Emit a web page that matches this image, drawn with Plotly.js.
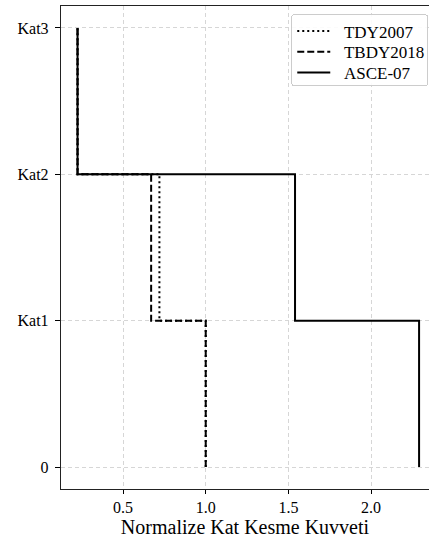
<!DOCTYPE html>
<html>
<head>
<meta charset="utf-8">
<script src="https://cdn.plot.ly/plotly-3.0.1.min.js"></script>
<style>html,body{margin:0;padding:0;background:#fff;}#chart{width:429px;height:542px;}</style>
</head>
<body>
<div id="chart"></div>
<script>
// Story categories (bottom to top)
const stories = ['0', 'Kat1', 'Kat2', 'Kat3'];
// Normalized story shear per story interval (0-Kat1, Kat1-Kat2, Kat2-Kat3)
const tdy2007 = [1.00, 0.72, 0.225];
const tbdy2018 = [1.00, 0.67, 0.225];
const asce07 = [2.29, 1.54, 0.225];

function stepX(vals) { return vals.concat([vals[vals.length - 1]]); }

const font = 'Liberation Serif';

const traces = [
  {name: 'TDY2007', x: stepX(tdy2007), y: stories, dash: '2px,3px'},
  {name: 'TBDY2018', x: stepX(tbdy2018), y: stories, dash: '7px,3px'},
  {name: 'ASCE-07', x: stepX(asce07), y: stories, dash: 'solid'}
].map(t => ({
  type: 'scatter', mode: 'lines', name: t.name, x: t.x, y: t.y,
  line: {color: '#000', width: 2, dash: t.dash, shape: 'vh'}
}));

const layout = {
  width: 429, height: 542,
  margin: {l: 61, r: 0, t: 6, b: 53},
  paper_bgcolor: '#fff', plot_bgcolor: '#fff',
  font: {family: font, color: '#000', size: 16},
  showlegend: true,
  legend: {
    x: 0.998, y: 0.983, xanchor: 'right', yanchor: 'top',
    bordercolor: '#cccccc', borderwidth: 1, bgcolor: 'rgba(255,255,255,0.9)',
    font: {family: font, size: 17}, tracegroupgap: 0
  },
  xaxis: {
    range: [0.125, 2.35],
    tickvals: [0.5, 1.0, 1.5, 2.0], ticktext: ['0.5', '1.0', '1.5', '2.0'],
    ticks: 'outside', ticklen: 4, tickcolor: '#000', ticklabelstandoff: 0,
    showline: true, linecolor: '#222', linewidth: 1.2, mirror: true,
    showgrid: true, gridcolor: '#d6d6d6', griddash: '4px,3px', gridwidth: 1,
    zeroline: false,
    title: {text: 'Normalize Kat Kesme Kuvveti', font: {family: font, size: 20}, standoff: 0},
    tickfont: {family: font, size: 16}
  },
  yaxis: {
    type: 'category', categoryorder: 'array', categoryarray: stories,
    range: [-0.15, 3.15],
    ticks: 'outside', ticklen: 5, tickcolor: '#000', ticklabelstandoff: 3,
    showline: true, linecolor: '#222', linewidth: 1.2, mirror: false,
    showgrid: true, gridcolor: '#d6d6d6', griddash: '4px,3px', gridwidth: 1,
    zeroline: false,
    tickfont: {family: font, size: 16}
  }
};

function parseT(el) {
  const m = /translate\(\s*([-\d.]+)[ ,]+([-\d.]+)\s*\)/.exec(el.getAttribute('transform') || '');
  return m ? [parseFloat(m[1]), parseFloat(m[2])] : [0, 0];
}

// Tighten the legend to matplotlib-like spacing (purely cosmetic)
function tidyLegend() {
  const leg = document.querySelector('.legend');
  if (!leg) return;
  const widen = 9, rowGap = 20.8;
  const [lx, ly] = parseT(leg);
  leg.setAttribute('transform', 'translate(' + (lx - widen) + ',' + ly + ')');
  const bg = leg.querySelector('.bg');
  bg.setAttribute('width', parseFloat(bg.getAttribute('width')) + widen);
  bg.setAttribute('height', 71);
  bg.setAttribute('rx', 3); bg.setAttribute('ry', 3);
  const sb = leg.querySelector('.scrollbox');
  if (sb) sb.removeAttribute('clip-path');
  const items = leg.querySelectorAll('.traces');
  let y0 = null;
  items.forEach((g, i) => {
    const [tx, ty] = parseT(g);
    if (y0 === null) y0 = ty - 1.8;
    g.setAttribute('transform', 'translate(' + tx + ',' + (y0 + i * rowGap) + ')');
    const t = g.querySelector('.legendtext');
    if (t) t.setAttribute('x', parseFloat(t.getAttribute('x') || 40) + 11.7);
    g.querySelectorAll('.legendlines path').forEach(p => p.setAttribute('d', 'M5,0h33'));
  });
}

Plotly.newPlot('chart', traces, layout, {displayModeBar: false, staticPlot: true}).then(tidyLegend);
</script>
</body>
</html>
